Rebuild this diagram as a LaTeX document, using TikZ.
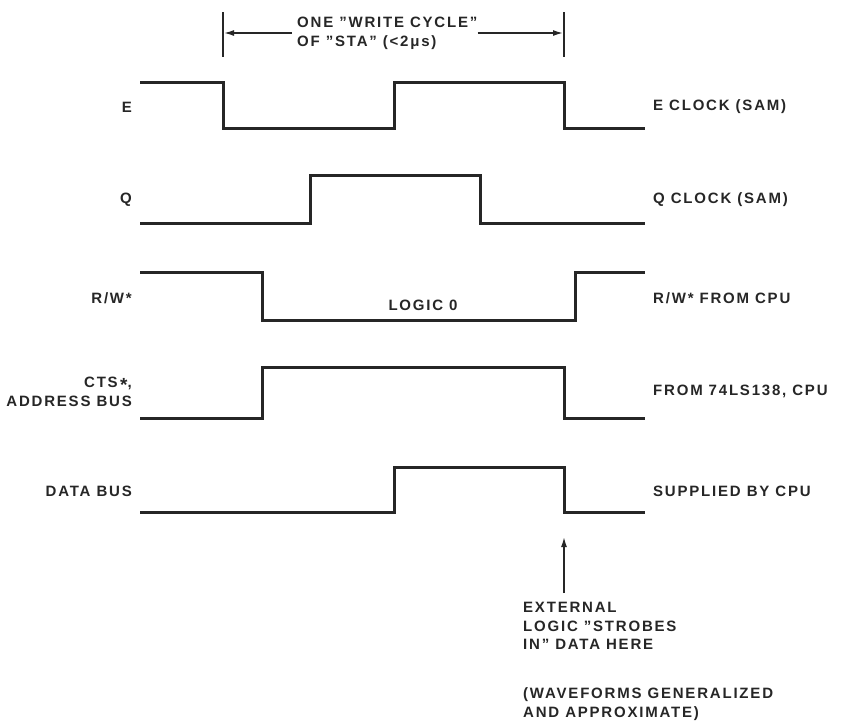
\documentclass[tikz,border=0pt]{standalone}
\usepackage{fontspec}
\setmainfont{Liberation Sans}[LetterSpace=12]
\usetikzlibrary{arrows.meta}
\begin{document}
\begin{tikzpicture}[x=1pt,y=-1pt,
  wave/.style={line width=3pt,line join=miter,color=black!85},
  lbl/.style={font=\fontsize{15}{18.5}\selectfont\bfseries,text=black!85,inner sep=0pt},
  llbl/.style={lbl,anchor=east,align=right},
  rlbl/.style={lbl,anchor=west,align=left},
  bar/.style={line width=2pt,color=black!85},
  dim/.style={line width=1.5pt,color=black!85,-{Latex[length=10pt,width=6pt]}}]
\useasboundingbox (0,0) rectangle (841,721);
% waveforms
\draw[wave] (140,82) -- (223,82) -- (223,128) -- (394,128) -- (394,82) -- (564,82) -- (564,128) -- (645,128);
\draw[wave] (140,223) -- (310,223) -- (310,175) -- (480,175) -- (480,223) -- (645,223);
\draw[wave] (140,272) -- (262,272) -- (262,320) -- (575,320) -- (575,272) -- (645,272);
\draw[wave] (140,418) -- (262,418) -- (262,367) -- (564,367) -- (564,418) -- (645,418);
\draw[wave] (140,512) -- (394,512) -- (394,467) -- (564,467) -- (564,512) -- (645,512);
% left labels
\node[llbl] (lE) at (132,107) {E};
\node[llbl] (lQ) at (132,200) {Q};
\node[llbl] (lRW) at (132,298) {R/W*};
\node[llbl] (lCTS) at (132,392) {CTS\,\raisebox{-4pt}{\fontsize{19}{19}\selectfont *},\\ADDRESS BUS};
\node[llbl] (lD) at (132,491) {DATA BUS};
% right labels
\node[rlbl] (rE) at (653,107) {E CLOCK (SAM)};
\node[rlbl] (rQ) at (653,200) {Q CLOCK (SAM)};
\node[rlbl] (rRW) at (653,298) {R/W* FROM CPU};
\node[rlbl] (rCTS) at (653,391) {FROM 74LS138, CPU};
\node[rlbl] (rD) at (653,491) {SUPPLIED BY CPU};
\node[lbl] (logic) at (423,305) {LOGIC 0};
% top dimension
\draw[bar] (223,12) -- (223,57);
\draw[bar] (564,12) -- (564,57);
\coordinate (dl) at (224,33);
\coordinate (dr) at (563,33);
\node[lbl,align=left,anchor=west] (cyc) at (297,33.5) {ONE "WRITE CYCLE"\\OF "STA" (<2μs)};
\draw[dim] (cyc.west |- dl) ++(-5,0) -- (dl);
\draw[dim] (cyc.east |- dr) -- (dr);
% bottom strobe arrow
\coordinate (st) at (564,593);
\coordinate (sh) at (564,537);
\draw[dim] (st) -- (sh);
\node[rlbl,anchor=west] (ext) at (523,626) {EXTERNAL\\LOGIC "STROBES\\IN" DATA HERE};
\node[rlbl,anchor=west] (gen) at (523,704) {(WAVEFORMS GENERALIZED\\AND APPROXIMATE)};
\end{tikzpicture}
\end{document}
